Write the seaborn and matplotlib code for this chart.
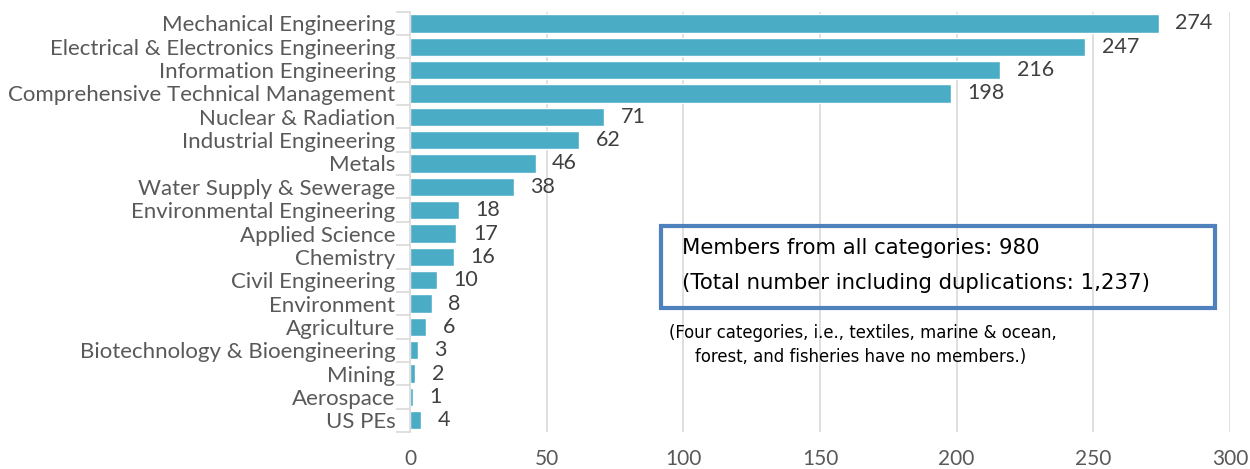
import matplotlib
matplotlib.use("Agg")
import matplotlib.pyplot as plt
import seaborn as sns
import pandas as pd
from matplotlib.patches import Rectangle

categories = ["Mechanical Engineering", "Electrical & Electronics Engineering",
              "Information Engineering", "Comprehensive Technical Management",
              "Nuclear & Radiation", "Industrial Engineering", "Metals",
              "Water Supply & Sewerage", "Environmental Engineering",
              "Applied Science", "Chemistry", "Civil Engineering", "Environment",
              "Agriculture", "Biotechnology & Bioengineering", "Mining",
              "Aerospace", "US PEs"]
members = [274, 247, 216, 198, 71, 62, 46, 38, 18, 17, 16, 10, 8, 6, 3, 2, 1, 4]
x_ticks = [0, 50, 100, 150, 200, 250, 300]

box_lines = ["Members from all categories: 980",
             "(Total number including duplications: 1,237)"]
note_lines = ["(Four categories, i.e., textiles, marine & ocean,",
              "forest, and fisheries have no members.)"]

df = pd.DataFrame({"category": categories, "members": members})

sns.set_theme(style="white")
plt.rcParams["font.family"] = ["Lato", "DejaVu Sans"]

fig = plt.figure(figsize=(12.5, 4.69), dpi=100)
ax = fig.add_axes([0.328, 0.079, 0.656, 0.896])

sns.barplot(data=df, x="members", y="category", color="#4BACC6", saturation=1,
            width=0.78, ax=ax)

ax.set_xlim(0, 300)
ax.set_xticks(x_ticks)
ax.set_ylim(len(categories) - 0.5, -0.5)
for t in x_ticks[1:]:
    ax.axvline(t, color="#D9D9D9", lw=1.2, zorder=0)

for sp in ["top", "right", "bottom"]:
    ax.spines[sp].set_visible(False)
ax.spines["left"].set_color("#D9D9D9")
ax.spines["left"].set_linewidth(1.2)

ax.set_xlabel("")
ax.set_ylabel("")
ax.tick_params(axis="x", length=0, pad=12, labelsize=15, labelcolor="#595959")
ax.tick_params(axis="y", length=0, pad=10.5, labelsize=16, labelcolor="#595959")

# Excel-style separator ticks between categories
ax.set_yticks([i - 0.5 for i in range(len(categories) + 1)], minor=True)
ax.tick_params(axis="y", which="minor", length=10, color="#D9D9D9", width=1.2, left=True)

for i, v in enumerate(members):
    ax.text(v + 6, i, str(v), va="center", ha="left", fontsize=15.5, color="#404040")

ax.add_patch(Rectangle((92, 12.19), 202.5, -3.52, fill=False, edgecolor="#4F81BD",
                       lw=3, transform=ax.transData, clip_on=False, zorder=5))
fig.text(0.546, 0.471, box_lines[0], fontsize=15.3, color="black",
         family=["DejaVu Sans"], va="center")
fig.text(0.546, 0.397, box_lines[1], fontsize=15.3, color="black",
         family=["DejaVu Sans"], va="center")
fig.text(0.535, 0.290, note_lines[0], fontsize=11.9, color="black",
         family=["DejaVu Sans"], va="center")
fig.text(0.556, 0.238, note_lines[1], fontsize=11.9, color="black",
         family=["DejaVu Sans"], va="center")

fig.savefig("out.png", dpi=100)
